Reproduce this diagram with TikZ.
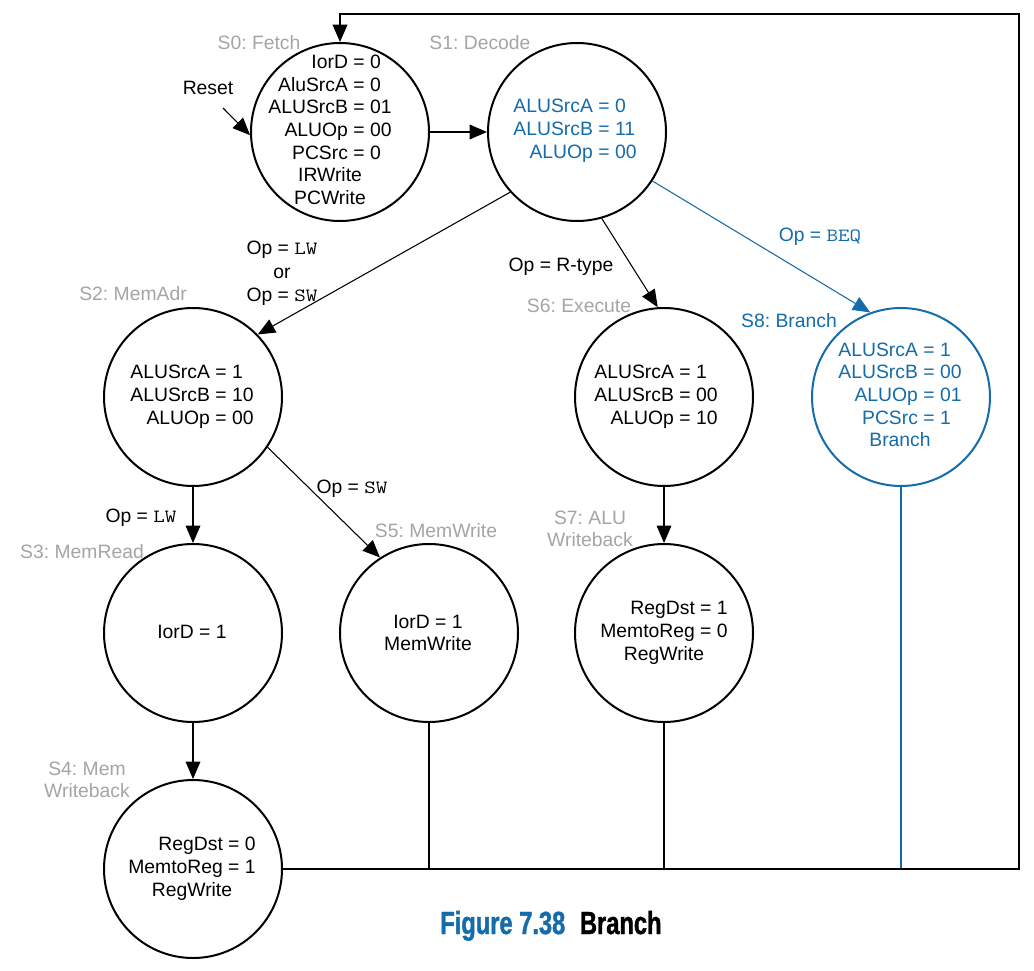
\documentclass[tikz,border=0pt]{standalone}
\usepackage{fontspec}
\usepackage{graphicx}
\setmainfont{Liberation Sans}
\newfontfamily\capfont[FakeStretch=0.74,BoldFeatures={FakeBold=1.2}]{Liberation Sans}
\usetikzlibrary{arrows.meta}
\definecolor{fsmblue}{RGB}{20,108,170}
\definecolor{fsmgray}{RGB}{165,165,165}
\frenchspacing
\newcommand{\stab}[1]{{\setlength\tabcolsep{0pt}\begin{tabular}{r@{\ =\ }l}#1\end{tabular}}}
\newcommand{\mc}[1]{\multicolumn{2}{c}{#1}}
\newcommand{\cw}[1]{\scalebox{1.2}[1]{\ttfamily\fontsize{14}{14}\selectfont #1}}
\begin{document}
\begin{tikzpicture}[x=0.75pt,y=-0.75pt,
  state/.style={circle,draw,line width=1.5pt,minimum size=133.5pt,inner sep=0pt},
  bstate/.style={state,draw=fsmblue},
  txt/.style={inner sep=0pt,font=\fontsize{14.5}{16.9}\selectfont},
  lbl/.style={txt,text=fsmgray,align=center},
  elbl/.style={txt,anchor=base},
  glbl/.style={lbl,anchor=base},
  conn/.style={line width=0.8pt,-{Triangle[length=13pt,width=11pt]}},
  loopline/.style={line width=1pt},
  drop/.style={line width=0.8pt}]
\useasboundingbox (0,0) rectangle (1034,970);
\fill[white] (0,0) rectangle (1034,970);
% states
\node[state] (S0) at (340,132) {};
\node[state] (S1) at (577,132) {};
\node[state] (S2) at (193,397) {};
\node[state] (S6) at (664,397) {};
\node[bstate] (S8) at (901,397) {};
\node[state] (S3) at (193,633) {};
\node[state] (S5) at (429,633) {};
\node[state] (S7) at (664,633) {};
\node[state] (S4) at (193,869) {};
% state contents
\node[txt] (t0) at (330,132) {\stab{IorD&0\\AluSrcA&0\\ALUSrcB&01\\ALUOp&00\\PCSrc&0\\\mc{IRWrite}\\\mc{PCWrite}}};
\node[txt,text=fsmblue] (t1) at (575,131) {\stab{ALUSrcA&0\\ALUSrcB&11\\ALUOp&00}};
\node[txt] (t2) at (192,397) {\stab{ALUSrcA&1\\ALUSrcB&10\\ALUOp&00}};
\node[txt] (t6) at (656,397) {\stab{ALUSrcA&1\\ALUSrcB&00\\ALUOp&10}};
\node[txt,text=fsmblue] (t8) at (900,397) {\stab{ALUSrcA&1\\ALUSrcB&00\\ALUOp&01\\PCSrc&1\\\mc{Branch}}};
\node[txt] (t3) at (192,632) {IorD = 1};
\node[txt,align=center] (t5) at (428,633) {IorD = 1\\MemWrite};
\node[txt] (t7) at (664,633) {\stab{RegDst&1\\MemtoReg&0\\\mc{RegWrite}}};
\node[txt] (t4) at (192,869) {\stab{RegDst&0\\MemtoReg&1\\\mc{RegWrite}}};
% state names
\node[glbl] (l0) at (259,50) {S0: Fetch};
\node[glbl] (l1) at (480,50) {S1: Decode};
\node[glbl] (l2) at (133,300) {S2: MemAdr};
\node[glbl] (l6) at (579,312) {S6: Execute};
\node[glbl,text=fsmblue] (l8) at (789,327) {S8: Branch};
\node[glbl] (l3) at (82,558) {S3: MemRead};
\node[glbl] (l5) at (436,537) {S5: MemWrite};
\node[lbl] (l7) at (590,529) {S7: ALU\\Writeback};
\node[lbl] (l4) at (87,780) {S4: Mem\\Writeback};
% edge labels
\node[elbl] (reset) at (208,95) {Reset};
\node[txt,align=center,font=\fontsize{14.5}{17.6}\selectfont] (elw) at (282,273.5) {Op = \cw{LW}\\or\\Op = \cw{SW}};
\node[elbl] (ertype) at (561,271) {Op = R-type};
\node[elbl,text=fsmblue] (ebeq) at (820,241) {Op = \cw{BEQ}};
\node[elbl] (esw) at (352,493) {Op = \cw{SW}};
\node[elbl] (elw2) at (141,522) {Op = \cw{LW}};
% connectors
\coordinate (rst) at (223,108);
\coordinate (tr) at (1019,14);
\draw[conn] (rst) -- (S0.182);
\draw[conn] (S0.east) -- (S1.west);
\draw[conn] (S1.222) -- (S2.44);
\draw[conn] (S1.286) -- (S6.94);
\draw[conn,fsmblue] (S1.327) -- (S8.110);
\draw[conn] (S2.south) -- (S3.north);
\draw[conn] (S2.326) -- (S5.123);
\draw[conn] (S3.south) -- (S4.north);
\draw[conn] (S6.south) -- (S7.north);
\draw[drop] (S5.south) -- (S5.south |- S4.east);
\draw[drop] (S7.south) -- (S7.south |- S4.east);
\draw[drop,fsmblue] (S8.south) -- (S8.south |- S4.east);
\draw[loopline,-{Triangle[length=13pt,width=11pt]}] (S4.east) -| (tr) -| (S0.north);
% caption
\node[anchor=base west,inner sep=0pt,font=\capfont\bfseries\fontsize{24}{28}\selectfont] (cap) at (440,934) {\textcolor{fsmblue}{Figure 7.38}\hspace{11pt}Branch};
\end{tikzpicture}
\end{document}
